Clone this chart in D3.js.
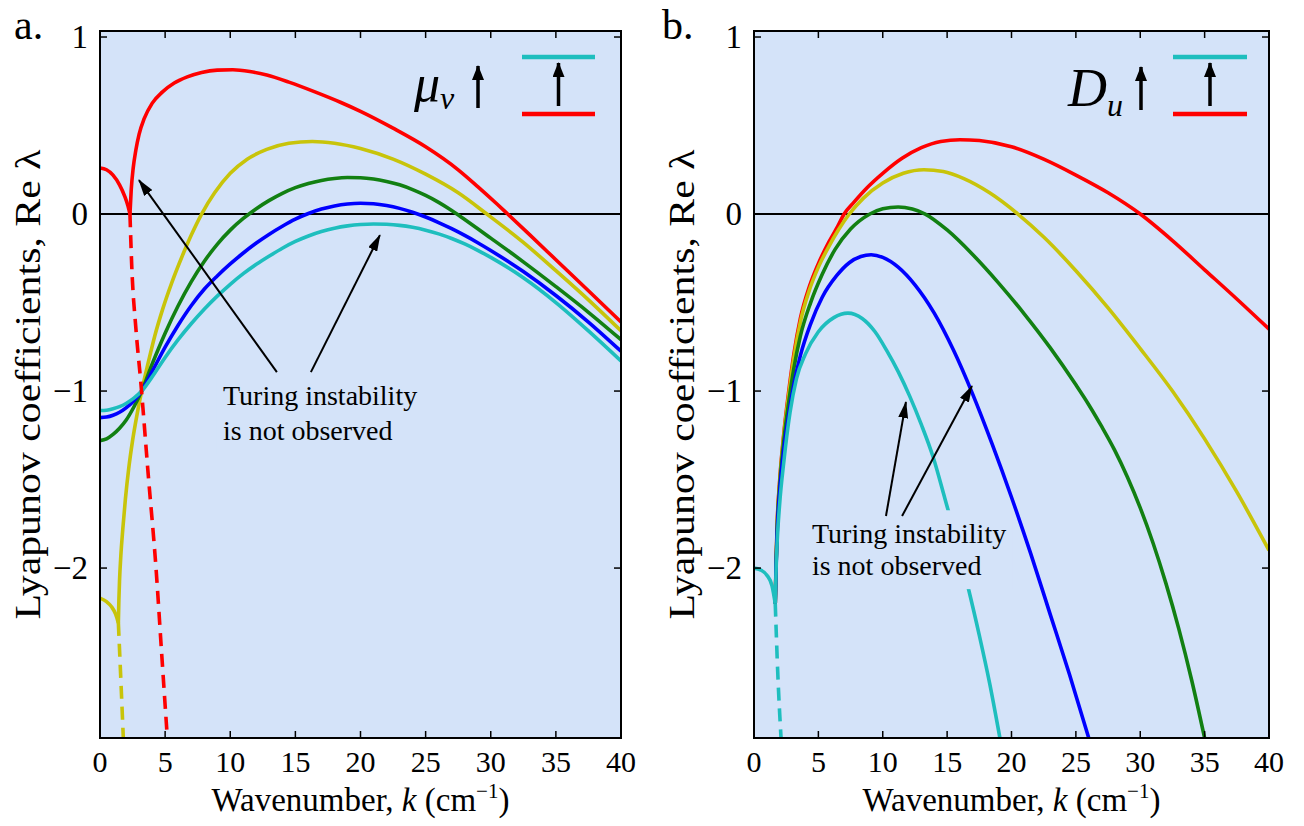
<!DOCTYPE html>
<html><head><meta charset="utf-8">
<script src="https://cdn.jsdelivr.net/npm/d3@7"></script>
<style>
body{margin:0;background:#fff}
svg{display:block}
text{font-family:"Liberation Serif","Times New Roman",serif;fill:#000}
</style>
</head><body>
<svg id="chart" width="1304" height="826"></svg>
<script>
// ---------- shared axis data ----------
const kTicks = [0,5,10,15,20,25,30,35,40];
const kTickLabels = ["0","5","10","15","20","25","30","35","40"];
const vTicks = [1,0,-1,-2];
const vTickLabels = ["1","0","\u22121","\u22122"];
const kDomain = [0,40];
const vDomain = [-2.96,1.034];
const colors = {red:"#ff0000", yellow:"#c8c40a", green:"#128012", blue:"#0000ff", cyan:"#1ebebe"};

// ---------- panel a (mu_v varies) ----------
const aRedLow  = [[0,0.26],[0.5,0.25],[1.0,0.22],[1.5,0.165],[1.9,0.1],[2.15,0.045],[2.3,0]];
const aRedHigh = [[2.3,0],[2.4,0.14],[2.55,0.26],[2.75,0.36],[3.0,0.45],[3.4,0.54],[4.0,0.625],[4.8,0.69],[5.7,0.74],[6.7,0.775],[7.8,0.80],[9.0,0.813],[10.2,0.815],[11.5,0.805],[12.8,0.785],[14.5,0.745],[16.5,0.69],[18.5,0.63],[20,0.58],[22.5,0.485],[25,0.38],[27.5,0.25],[29,0.155],[30.5,0.055],[31.3,0],[33,-0.118],[35,-0.258],[37.5,-0.433],[40,-0.61]];
const aRedDash = [[2.3,0],[2.43,-0.28],[2.76,-0.65],[3.12,-0.94],[3.7,-1.47],[4.3,-2.0],[4.75,-2.5],[5.17,-2.96]];
const aYellowLow  = [[0,-2.17],[0.5,-2.19],[0.9,-2.22],[1.2,-2.26],[1.41,-2.31]];
const aYellowHigh = [[1.41,-2.31],[1.45,-2.18],[1.5,-2.07],[1.6,-1.93],[1.75,-1.78],[1.95,-1.61],[2.2,-1.44],[2.5,-1.28],[2.85,-1.13],[3.2,-1.0],[3.7,-0.84],[4.2,-0.69],[4.8,-0.54],[5.5,-0.39],[6.3,-0.24],[7.0,-0.12],[7.8,0],[8.8,0.12],[10.0,0.23],[11.3,0.31],[12.8,0.365],[14.5,0.40],[16.3,0.41],[18,0.40],[20,0.37],[22.5,0.31],[25,0.225],[27.5,0.12],[29.7,0],[32.5,-0.16],[35,-0.32],[37.5,-0.485],[40,-0.66]];
const aYellowDash = [[1.41,-2.31],[1.6,-2.63],[1.79,-2.96]];
const aGreen = [[0,-1.28],[0.5,-1.27],[1.0,-1.245],[1.5,-1.21],[2.0,-1.165],[2.6,-1.09],[3.2,-1.0],[4,-0.848],[5,-0.673],[6,-0.518],[7,-0.383],[8,-0.268],[9,-0.171],[10,-0.091],[11,-0.025],[12,0.03],[13,0.077],[14,0.117],[15,0.149],[16,0.173],[17,0.19],[18,0.201],[19,0.206],[20,0.205],[21,0.198],[22,0.184],[23,0.165],[24,0.138],[25,0.105],[26,0.066],[27,0.02],[28,-0.031],[29,-0.083],[30,-0.136],[32.5,-0.27],[35,-0.41],[37.5,-0.555],[40,-0.71]];
const aBlue = [[0,-1.15],[0.5,-1.147],[1.0,-1.137],[1.5,-1.12],[2.0,-1.095],[2.6,-1.055],[3.2,-1.0],[4,-0.89],[5,-0.752],[6,-0.628],[7,-0.518],[8,-0.425],[9,-0.35],[10,-0.282],[11,-0.22],[12,-0.164],[13,-0.114],[14,-0.069],[15,-0.029],[16,0.003],[17,0.028],[18,0.046],[19,0.057],[20,0.061],[21,0.058],[22,0.048],[23,0.032],[24,0.01],[25,-0.017],[26,-0.048],[27,-0.083],[28,-0.121],[29,-0.162],[30,-0.206],[32.5,-0.325],[35,-0.46],[37.5,-0.61],[40,-0.775]];
const aCyan = [[0,-1.11],[0.5,-1.108],[1.0,-1.1],[1.5,-1.088],[2.0,-1.07],[2.6,-1.04],[3.2,-1.0],[4,-0.92],[5,-0.81],[6,-0.71],[7,-0.62],[8,-0.538],[9,-0.464],[10,-0.397],[11,-0.337],[12,-0.284],[13,-0.237],[14,-0.193],[15,-0.155],[16,-0.124],[17,-0.099],[18,-0.08],[19,-0.067],[20,-0.059],[21,-0.056],[22,-0.058],[23,-0.064],[24,-0.075],[25,-0.091],[26,-0.112],[27,-0.138],[28,-0.169],[29,-0.205],[30,-0.245],[32.5,-0.36],[35,-0.5],[37.5,-0.66],[40,-0.83]];

// ---------- panel b (D_u varies) ----------
const bLow = [[0,-2.0],[0.5,-2.01],[1.0,-2.04],[1.4,-2.1],[1.65,-2.2]];
const bDash = [[1.65,-2.2],[1.85,-2.6],[2.1,-2.96]];
const bRed = [[1.65,-2.2],[1.72,-1.95],[1.8,-1.75],[2.0,-1.5],[2.3,-1.25],[2.7,-1.0],[3.1,-0.79],[3.6,-0.59],[4.3,-0.41],[5.0,-0.28],[5.8,-0.16],[6.5,-0.07],[7.0,0],[7.8,0.07],[8.8,0.15],[10,0.23],[11.5,0.315],[13,0.375],[14.5,0.41],[16,0.42],[17.5,0.415],[20,0.38],[22.5,0.31],[25,0.22],[27.5,0.12],[30,0],[32.5,-0.15],[35,-0.315],[37.5,-0.48],[40,-0.65]];
const bYellow = [[1.65,-2.2],[1.72,-1.96],[1.8,-1.76],[2.0,-1.51],[2.3,-1.26],[2.7,-1.02],[3.1,-0.81],[3.6,-0.61],[4.3,-0.43],[5.0,-0.3],[5.8,-0.185],[6.6,-0.085],[7.4,0],[8.5,0.09],[10,0.175],[11.6,0.23],[13.2,0.25],[14.7,0.24],[16.3,0.2],[18.3,0.12],[20.5,0],[22.5,-0.13],[25,-0.32],[27.5,-0.53],[30,-0.76],[32.5,-1.0],[35,-1.27],[37.5,-1.57],[40,-1.9]];
const bGreen = [[1.65,-2.2],[1.72,-1.97],[1.8,-1.78],[2.0,-1.53],[2.3,-1.29],[2.7,-1.06],[3.1,-0.87],[3.6,-0.69],[4.4,-0.5],[5.3,-0.34],[6.3,-0.2],[7.5,-0.085],[9.0,0],[10,0.03],[11.2,0.04],[12.3,0.028],[13.3,0],[15,-0.09],[17,-0.23],[19,-0.39],[21,-0.565],[23,-0.755],[25,-0.965],[26,-1.077],[27,-1.2],[28,-1.332],[29,-1.485],[30,-1.66],[31,-1.86],[32,-2.088],[33,-2.345],[34,-2.635],[35,-2.96]];
const bBlue = [[1.65,-2.2],[1.72,-1.98],[1.8,-1.8],[2.0,-1.56],[2.3,-1.34],[2.7,-1.13],[3.1,-0.96],[3.6,-0.8],[4.4,-0.62],[5.3,-0.47],[6.4,-0.35],[7.4,-0.275],[8.3,-0.24],[9.1,-0.23],[10,-0.245],[11.2,-0.3],[12.5,-0.4],[14,-0.56],[15.5,-0.77],[17,-1.02],[18.5,-1.3],[20,-1.6],[21.5,-1.92],[23,-2.26],[24.5,-2.6],[26,-2.96]];
const bCyan = [[1.65,-2.2],[1.72,-2.0],[1.8,-1.85],[2.0,-1.63],[2.3,-1.41],[2.8,-1.12],[3.3,-0.93],[4.0,-0.79],[5.0,-0.665],[6.2,-0.585],[7.3,-0.56],[8.4,-0.59],[9.4,-0.665],[10.3,-0.77],[11.2,-0.89],[12.1,-1.03],[13.0,-1.19],[13.9,-1.37],[14.8,-1.6],[15.7,-1.84],[16.6,-2.1],[17.5,-2.38],[18.3,-2.65],[19.0,-2.92],[19.1,-2.96]];

const svg = d3.select("#chart");
const defs = svg.append("defs");
defs.append("marker").attr("id","ah").attr("markerUnits","userSpaceOnUse")
  .attr("markerWidth",17).attr("markerHeight",10).attr("refX",16).attr("refY",5)
  .attr("orient","auto")
  .append("path").attr("d","M0,0 L17,5 L0,10 Z").attr("fill","#000");
defs.append("marker").attr("id","ahL").attr("markerUnits","userSpaceOnUse")
  .attr("markerWidth",15).attr("markerHeight",12).attr("refX",14).attr("refY",6)
  .attr("orient","auto")
  .append("path").attr("d","M0,0 L15,6 L0,12 Z").attr("fill","#000");

function drawPanel(cfg){
  const x = d3.scaleLinear().domain(kDomain).range([cfg.left, cfg.right]);
  const y = d3.scaleLinear().domain(vDomain).range([cfg.bottom, cfg.top]);
  const g = svg.append("g");
  const clipId = "clip"+cfg.id;
  defs.append("clipPath").attr("id",clipId).append("rect")
    .attr("x",cfg.left).attr("y",cfg.top).attr("width",cfg.right-cfg.left).attr("height",cfg.bottom-cfg.top);
  g.append("rect").attr("x",cfg.left).attr("y",cfg.top)
    .attr("width",cfg.right-cfg.left).attr("height",cfg.bottom-cfg.top).attr("fill","#d4e3f9");
  const plot = g.append("g").attr("clip-path",`url(#${clipId})`);
  plot.append("line").attr("x1",x(0)).attr("x2",x(40)).attr("y1",y(0)).attr("y2",y(0))
    .attr("stroke","#000").attr("stroke-width",2);
  const line = d3.line().x(d=>x(d[0])).y(d=>y(d[1])).curve(d3.curveMonotoneX);
  cfg.series.forEach(s=>{
    plot.append("path").attr("d",line(s.data)).attr("fill","none")
      .attr("stroke",colors[s.color]).attr("stroke-width",3.6)
      .attr("stroke-dasharray",s.dash?"13,8":null).attr("stroke-linejoin","round");
  });
  // annotation
  const ann = cfg.ann;
  const tg = plot.append("g");
  const t = tg.append("text").attr("font-size",28);
  t.append("tspan").attr("x",x(ann.k)).attr("y",y(ann.v1)).text("Turing instability");
  t.append("tspan").attr("x",x(ann.k)).attr("y",y(ann.v2)).text("is not observed");
  const bb = t.node().getBBox();
  tg.insert("rect","text").attr("x",bb.x-6).attr("y",bb.y-8).attr("width",bb.width+12).attr("height",bb.height+16)
    .attr("fill","#d4e3f9");
  ann.arrows.forEach(a=>{
    plot.append("line").attr("x1",x(a[0])).attr("y1",y(a[1])).attr("x2",x(a[2])).attr("y2",y(a[3]))
      .attr("stroke","#000").attr("stroke-width",2).attr("marker-end","url(#ah)");
  });
  // legend
  const L = cfg.legend;
  L.text(g);
  g.append("line").attr("x1",L.arrowX).attr("x2",L.arrowX).attr("y1",L.arrowY2).attr("y2",L.arrowY1)
    .attr("stroke","#000").attr("stroke-width",3.5).attr("marker-end","url(#ahL)");
  g.append("line").attr("x1",L.lx1).attr("x2",L.lx2).attr("y1",57).attr("y2",57)
    .attr("stroke",colors.cyan).attr("stroke-width",4.5);
  g.append("line").attr("x1",L.lx1).attr("x2",L.lx2).attr("y1",114).attr("y2",114)
    .attr("stroke",colors.red).attr("stroke-width",4.5);
  g.append("line").attr("x1",(L.lx1+L.lx2)/2).attr("x2",(L.lx1+L.lx2)/2).attr("y1",106).attr("y2",63)
    .attr("stroke","#000").attr("stroke-width",3.5).attr("marker-end","url(#ahL)");
  // frame & ticks
  g.append("rect").attr("x",cfg.left).attr("y",cfg.top)
    .attr("width",cfg.right-cfg.left).attr("height",cfg.bottom-cfg.top)
    .attr("fill","none").attr("stroke","#000").attr("stroke-width",2);
  const tl = 7;
  kTicks.forEach((k,i)=>{
    g.append("line").attr("x1",x(k)).attr("x2",x(k)).attr("y1",cfg.bottom).attr("y2",cfg.bottom-tl).attr("stroke","#000").attr("stroke-width",1.5);
    g.append("line").attr("x1",x(k)).attr("x2",x(k)).attr("y1",cfg.top).attr("y2",cfg.top+tl).attr("stroke","#000").attr("stroke-width",1.5);
    g.append("text").attr("x",x(k)).attr("y",cfg.bottom+34).attr("text-anchor","middle")
      .attr("font-size",30).text(kTickLabels[i]);
  });
  vTicks.forEach((v,i)=>{
    g.append("line").attr("x1",cfg.left).attr("x2",cfg.left+tl).attr("y1",y(v)).attr("y2",y(v)).attr("stroke","#000").attr("stroke-width",1.5);
    g.append("line").attr("x1",cfg.right).attr("x2",cfg.right-tl).attr("y1",y(v)).attr("y2",y(v)).attr("stroke","#000").attr("stroke-width",1.5);
    g.append("text").attr("x",cfg.left-12).attr("y",y(v)+11).attr("text-anchor","end")
      .attr("font-size",33).text(vTickLabels[i]);
  });
  // axis titles
  const xt = g.append("text").attr("x",(cfg.left+cfg.right)/2).attr("y",cfg.bottom+73)
    .attr("text-anchor","middle").attr("font-size",33);
  xt.append("tspan").text("Wavenumber, ");
  xt.append("tspan").attr("font-style","italic").text("k");
  xt.append("tspan").text(" (cm");
  xt.append("tspan").attr("font-size",21).attr("dy",-13).text("\u22121");
  xt.append("tspan").attr("dy",13).text(")");
  const ytx = cfg.left-60, yty = (cfg.top+cfg.bottom)/2;
  g.append("text").attr("transform",`translate(${ytx},${yty}) rotate(-90)`)
    .attr("text-anchor","middle").attr("font-size",35)
    .attr("textLength",470).attr("lengthAdjust","spacingAndGlyphs")
    .text("Lyapunov coefficients, Re \u03bb");
  g.append("text").attr("x",cfg.letterX).attr("y",39).attr("font-size",42).text(cfg.letter);
}

drawPanel({
  id:"a", left:100, right:621, top:31, bottom:738, letter:"a.", letterX:14,
  series:[
    {data:aRedLow,color:"red"},{data:aRedHigh,color:"red"},
    {data:aYellowLow,color:"yellow"},{data:aYellowHigh,color:"yellow"},{data:aYellowDash,color:"yellow",dash:true},
    {data:aGreen,color:"green"},{data:aBlue,color:"blue"},{data:aCyan,color:"cyan"},
    {data:aRedDash,color:"red",dash:true}
  ],
  ann:{k:9.44, v1:-1.08, v2:-1.275, arrows:[[13.58,-0.893,2.99,0.192],[16.19,-0.893,21.49,-0.119]]},
  legend:{
    text:(g)=>{
      const t=g.append("text").attr("x",414).attr("y",101).attr("font-style","italic");
      t.append("tspan").attr("font-size",52).text("\u03bc");
      t.append("tspan").attr("font-size",32).attr("dy",8).text("v");
    },
    arrowX:478, arrowY1:66, arrowY2:108, lx1:522, lx2:595
  }
});
drawPanel({
  id:"b", left:754, right:1269, top:31, bottom:738, letter:"b.", letterX:662,
  series:[
    {data:bRed,color:"red"},{data:bYellow,color:"yellow"},{data:bGreen,color:"green"},
    {data:bBlue,color:"blue"},{data:bLow,color:"cyan"},{data:bCyan,color:"cyan"},
    {data:bDash,color:"cyan",dash:true}
  ],
  ann:{k:4.5, v1:-1.86, v2:-2.04, arrows:[[10.25,-1.706,11.8,-1.062],[11.5,-1.706,16.93,-0.972]]},
  legend:{
    text:(g)=>{
      const t=g.append("text").attr("x",1068).attr("y",106).attr("font-style","italic");
      t.append("tspan").attr("font-size",54).text("D");
      t.append("tspan").attr("font-size",32).attr("dy",10).text("u");
    },
    arrowX:1141, arrowY1:67, arrowY2:110, lx1:1173, lx2:1247
  }
});
</script>
</body></html>
